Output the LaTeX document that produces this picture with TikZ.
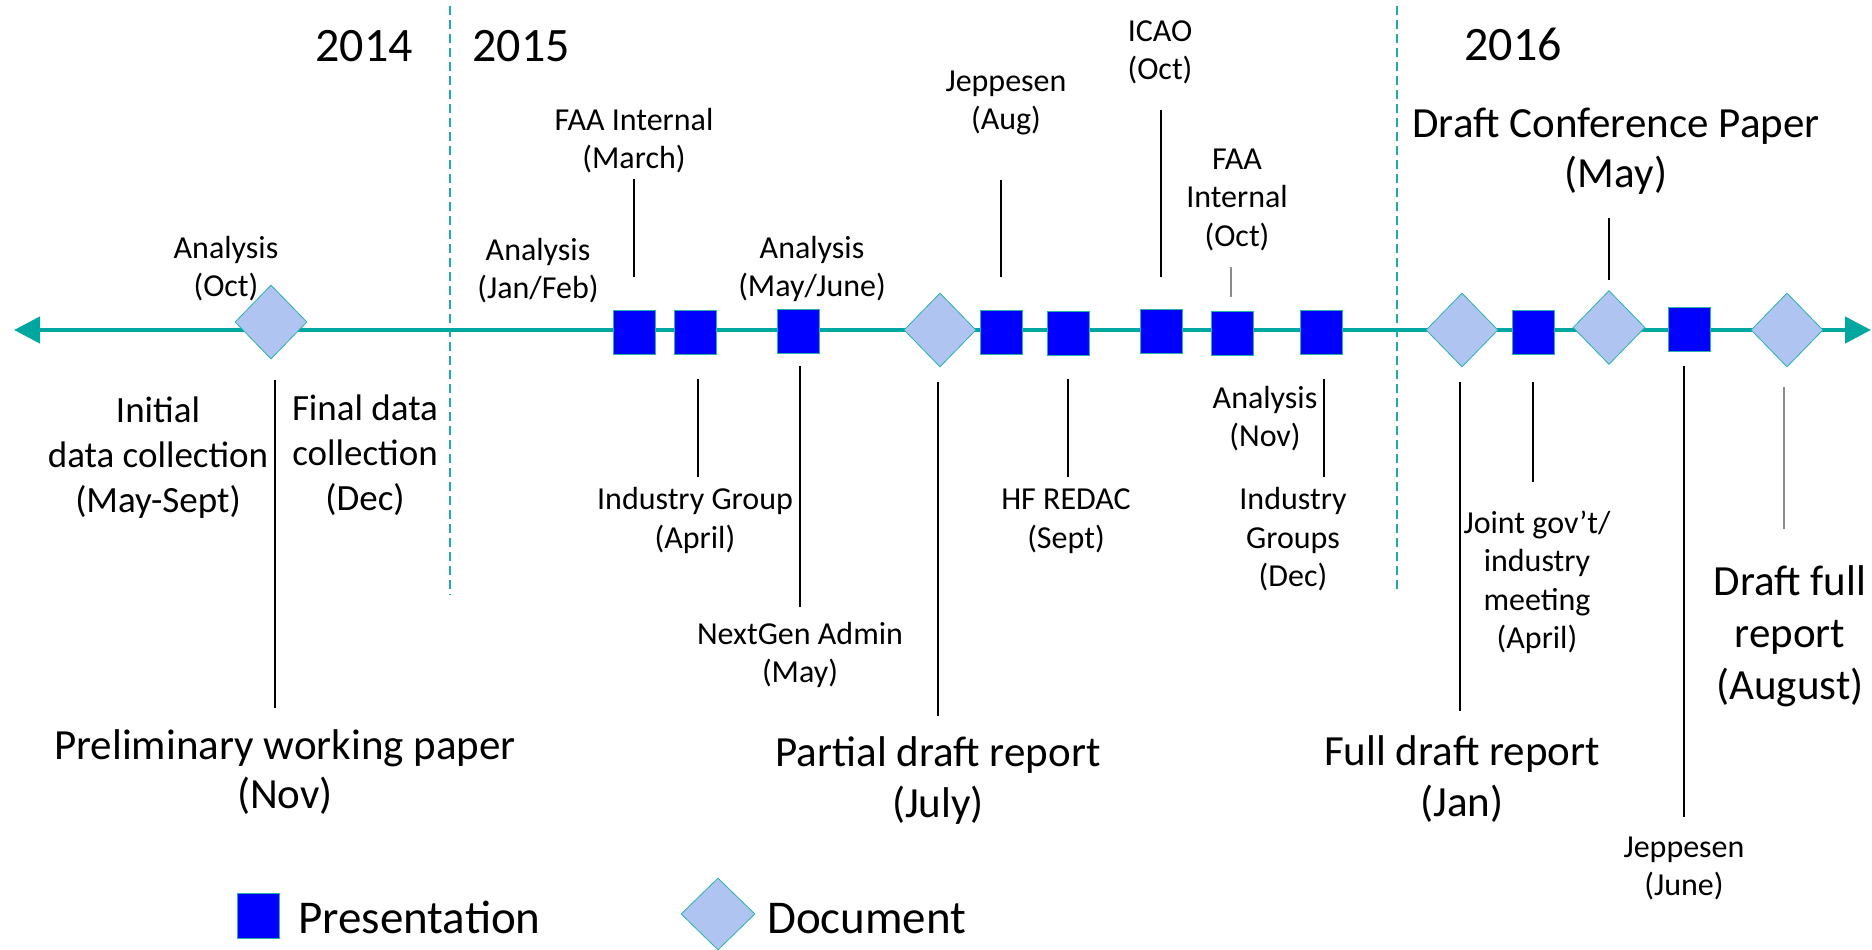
\documentclass[tikz,border=0pt]{standalone}
\usepackage{fontspec}
\setmainfont{Carlito}
\usetikzlibrary{arrows.meta,shapes.geometric}
\definecolor{axteal}{RGB}{0,166,160}
\definecolor{divteal}{RGB}{30,172,166}
\definecolor{markedge}{RGB}{40,178,172}
\definecolor{docfill}{RGB}{176,196,242}
\definecolor{presblue}{RGB}{0,0,255}
\definecolor{softgray}{RGB}{140,140,140}
\newcommand{\mlines}[1]{\begin{tabular}[t]{@{}c@{}}#1\end{tabular}}
\begin{document}
\begin{tikzpicture}[x=1pt,y=-1pt,
  axisline/.style={draw=axteal,line width=4.5pt,{Triangle[length=26pt,width=26pt]}-{Triangle[length=26pt,width=26pt]}},
  yeardiv/.style={draw=divteal,line width=2.5pt,dash pattern=on 9pt off 5pt},
  conn/.style={draw=black,line width=2pt},
  connsoft/.style={draw=softgray,line width=2pt},
  pres/.style={rectangle,draw=markedge,line width=0.8pt,fill=presblue,minimum width=42pt,minimum height=44pt,inner sep=0pt},
  doc/.style={diamond,draw=markedge,line width=0.8pt,fill=docfill,minimum width=72pt,minimum height=74pt,inner sep=0pt},
  lab/.style={inner sep=0pt,anchor=base},
  small/.style={font=\fontsize{32}{38.5}\selectfont},
  medium/.style={font=\fontsize{37}{45}\selectfont},
  large/.style={font=\fontsize{43}{51.5}\selectfont},
  yearlab/.style={font=\fontsize{48}{56}\selectfont,inner sep=0pt,anchor=base},
  legtxt/.style={font=\fontsize{47}{56}\selectfont,inner sep=0pt,anchor=base west}]
\useasboundingbox (0,0) rectangle (1872,950);

% year dividers
\coordinate (dvAt) at (450,6);
\coordinate (dvAb) at (450,595);
\coordinate (dvBt) at (1397,6);
\coordinate (dvBb) at (1397,593);
\draw[yeardiv] (dvAt) -- (dvAb);
\draw[yeardiv] (dvBt) -- (dvBb);

% years
\node[yearlab] (y2014) at (364,62) {2014};
\node[yearlab] (y2015) at (521,62) {2015};
\node[yearlab] (y2016) at (1513,61) {2016};

% time axis
\coordinate (axL) at (14,330);
\coordinate (axR) at (1871,330);
\draw[axisline] (axL) -- (axR);

% markers
\node[doc]  (d1) at (271,322) {};
\node[pres] (sA) at (634,332) {};
\node[pres] (sB) at (695,332.5) {};
\node[pres] (sC) at (798,331.5) {};
\node[doc]  (d2) at (940,330) {};
\node[pres] (sD) at (1001,332.5) {};
\node[pres] (sE) at (1068,333) {};
\node[pres] (sF) at (1161,331.5) {};
\node[pres] (sG) at (1232,333.5) {};
\node[pres] (sH) at (1321,332.5) {};
\node[doc]  (d3) at (1462,330) {};
\node[pres] (sI) at (1533,332.5) {};
\node[doc]  (d4) at (1609,327.5) {};
\node[pres] (sJ) at (1689,329.5) {};
\node[doc]  (d5) at (1787,330) {};

% labels above the axis
\node[lab,small] (anOct)  at (226,258) {\mlines{Analysis\\(Oct)}};
\node[lab,small] (anJan)  at (538,260) {\mlines{Analysis\\(Jan/Feb)}};
\node[lab,small] (faaMar) at (634,130) {\mlines{FAA Internal\\(March)}};
\node[lab,small] (anMay)  at (812,258) {\mlines{Analysis\\(May/June)}};
\node[lab,small] (jepAug) at (1006,91.5) {\mlines{Jeppesen\\(Aug)}};
\node[lab,small] (icao)   at (1160,41.5) {\mlines{ICAO\\(Oct)}};
\node[lab,small] (faaOct) at (1237,169) {\mlines{FAA\\Internal\\(Oct)}};
\node[lab,large,font=\fontsize{43}{51}\selectfont] (dcp) at (1616,137) {\mlines{Draft Conference Paper\\(May)}};

% labels below the axis
\node[lab,medium] (init)  at (158,422) {\mlines{Initial\\data collection\\(May-Sept)}};
\node[lab,medium] (final) at (365,420) {\mlines{Final data\\collection\\(Dec)}};
\node[lab,large,font=\fontsize{43}{49}\selectfont] (prelim) at (285,759) {\mlines{Preliminary working paper\\(Nov)}};
\node[lab,small]  (indGrp) at (695,509.5) {\mlines{Industry Group\\(April)}};
\node[lab,small]  (nextgen) at (800,644) {\mlines{NextGen Admin\\(May)}};
\node[lab,large]  (partial) at (938,766) {\mlines{Partial draft report\\(July)}};
\node[lab,small]  (hf) at (1066,509.5) {\mlines{HF REDAC\\(Sept)}};
\node[lab,small]  (anNov) at (1265,408) {\mlines{Analysis\\(Nov)}};
\node[lab,small]  (indGrps) at (1293,509.5) {\mlines{Industry\\Groups\\(Dec)}};
\node[lab,large]  (fulld) at (1462,765) {\mlines{Full draft report\\(Jan)}};
\node[lab,small]  (joint) at (1537,533) {\mlines{Joint gov’t/\\industry\\meeting\\(April)}};
\node[lab,small,font=\fontsize{32}{38}\selectfont]  (jepJun) at (1684,857) {\mlines{Jeppesen\\(June)}};
\node[lab,large,font=\fontsize{43}{52}\selectfont]  (dfr) at (1790,595.5) {\mlines{Draft full\\report\\(August)}};

% connector end points
\coordinate (kA1) at (634,179);  \coordinate (kA2) at (634,277);
\coordinate (kD1) at (1001,180); \coordinate (kD2) at (1001,277);
\coordinate (kF1) at (1161,110); \coordinate (kF2) at (1161,277);
\coordinate (kG1) at (1231,267); \coordinate (kG2) at (1231,297);
\coordinate (k41) at (1609,218); \coordinate (k42) at (1609,280);
\coordinate (k11) at (275,380);  \coordinate (k12) at (275,708);
\coordinate (kB1) at (698,379);  \coordinate (kB2) at (698,477);
\coordinate (kC1) at (800,366);  \coordinate (kC2) at (800,607);
\coordinate (k21) at (938,382);  \coordinate (k22) at (938,716);
\coordinate (kE1) at (1068,379); \coordinate (kE2) at (1068,477);
\coordinate (kH1) at (1324,379); \coordinate (kH2) at (1324,477);
\coordinate (k31) at (1460,382); \coordinate (k32) at (1460,711);
\coordinate (kI1) at (1533,382); \coordinate (kI2) at (1533,482);
\coordinate (kJ1) at (1684,366); \coordinate (kJ2) at (1684,817);
\coordinate (k51) at (1784,387); \coordinate (k52) at (1784,529);

% connectors
\draw[conn] (kA1) -- (kA2);
\draw[conn] (kD1) -- (kD2);
\draw[conn] (kF1) -- (kF2);
\draw[connsoft] (kG1) -- (kG2);
\draw[conn] (k41) -- (k42);
\draw[conn] (k11) -- (k12);
\draw[conn] (kB1) -- (kB2);
\draw[conn] (kC1) -- (kC2);
\draw[conn] (k21) -- (k22);
\draw[conn] (kE1) -- (kE2);
\draw[conn] (kH1) -- (kH2);
\draw[conn] (k31) -- (k32);
\draw[conn] (kI1) -- (kI2);
\draw[conn] (kJ1) -- (kJ2);
\draw[connsoft] (k51) -- (k52);

% legend
\node[pres,minimum height=45pt] (legP) at (258,916) {};
\node[legtxt] (legPt) at (298,933) {Presentation};
\node[doc,minimum width=74pt,minimum height=72pt] (legD) at (718,914) {};
\node[legtxt] (legDt) at (767,933) {Document};
\end{tikzpicture}
\end{document}
